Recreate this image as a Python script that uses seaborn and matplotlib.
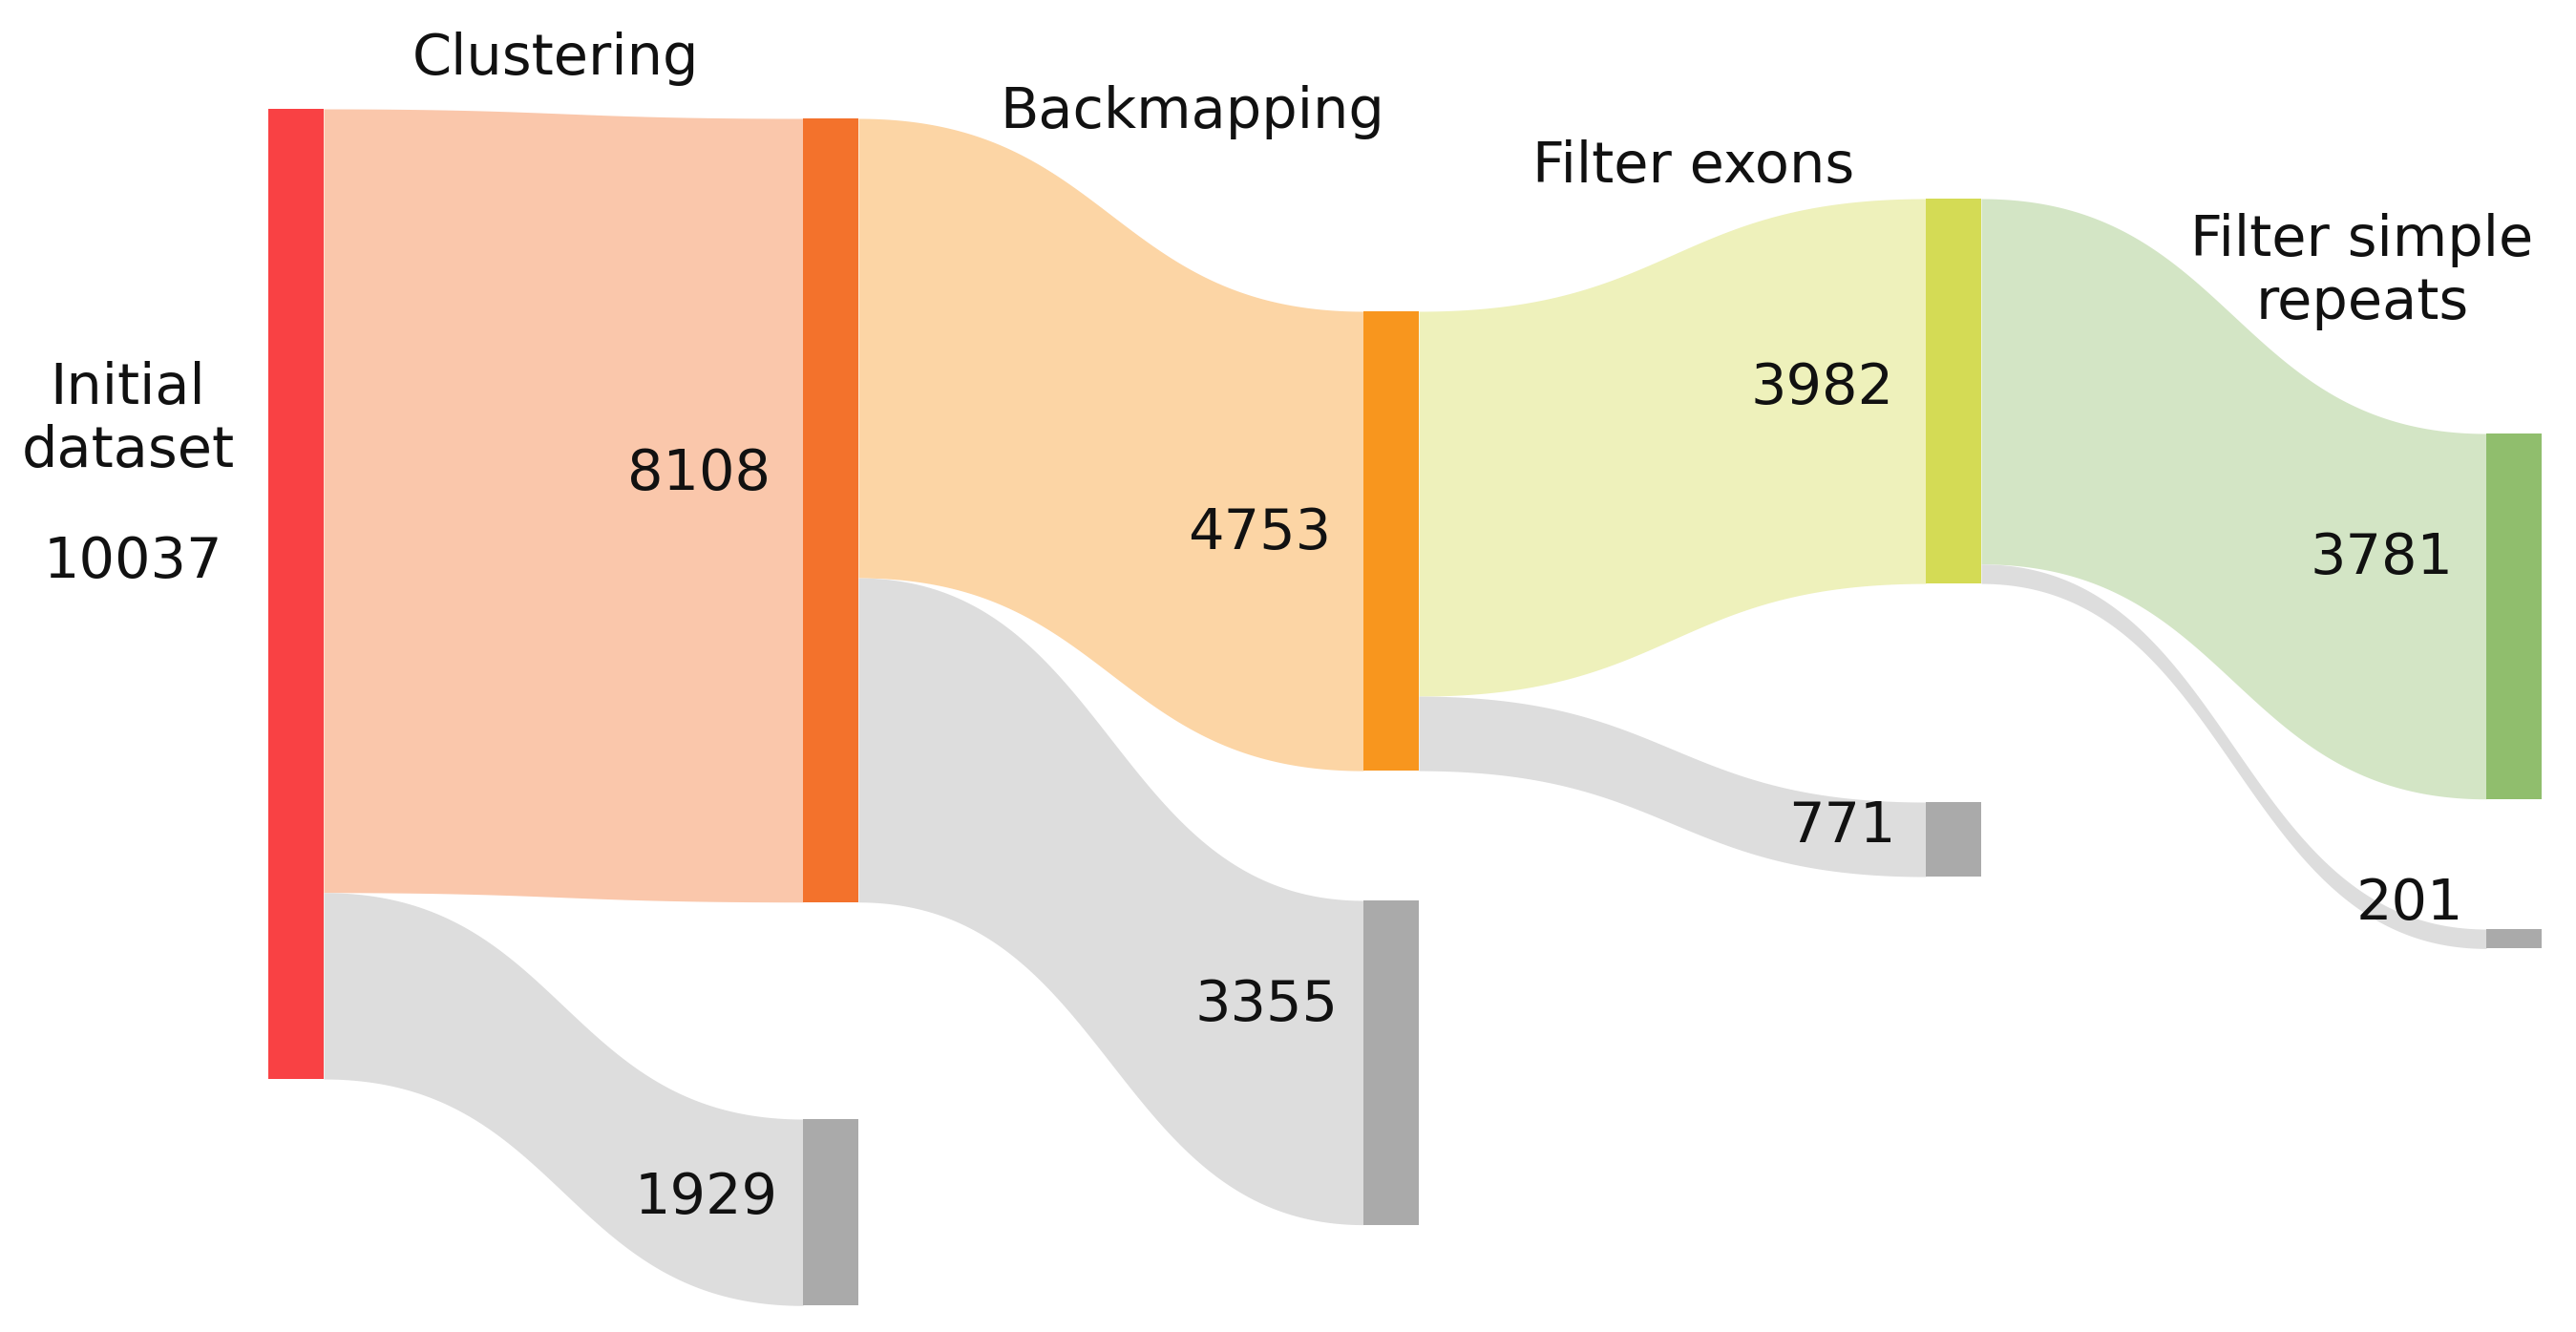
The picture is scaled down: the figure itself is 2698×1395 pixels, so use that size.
import numpy as np
import matplotlib
matplotlib.use("Agg")
import matplotlib.pyplot as plt
import seaborn as sns

# ---------------- data ----------------
stages = ["Initial\ndataset", "Clustering", "Backmapping", "Filter exons", "Filter simple\nrepeats"]
kept = [10037, 8108, 4753, 3982, 3781]          # sequences kept after each stage
removed = [1929, 3355, 771, 201]                # sequences discarded at stages 1..4
stage_colors = ["#F94144", "#F3722C", "#F8961E", "#D4DB55", "#90BE6D"]
removed_color = "#AAAAAA"

# ---------------- layout (pixels) ----------------
W, H = 2698, 1395
sns.set_theme(style="white")
plt.rcParams["font.family"] = ["DejaVu Sans"]

fig = plt.figure(figsize=(W / 100, H / 100), dpi=100)
ax = fig.add_axes([0, 0, 1, 1])
ax.set_xlim(0, W)
ax.set_ylim(H, 0)
ax.axis("off")

col_x = [281, 841, 1428, 2017, 2604]      # left edge of node columns
node_w = 58
kept_top = [114, 124, 326, 208, 454]
removed_top = [1172, 943, 840, 973]
scale = 1016.0 / kept[0]                   # px per sequence

pal = sns.color_palette(stage_colors)
light = lambda c, a=0.4: tuple(1 - a * (1 - v) for v in c)
gray = matplotlib.colors.to_rgb(removed_color)


def ribbon(x0, y0a, y0b, x1, y1a, y1b, color):
    t = np.linspace(0, 1, 200)
    dx = x1 - x0
    xs = x0 + dx * (1.5 * t - 1.5 * t ** 2 + t ** 3)
    s = 3 * t ** 2 - 2 * t ** 3
    top = y0a + (y1a - y0a) * s
    bot = y0b + (y1b - y0b) * s
    ax.fill_between(xs, top, bot, color=color, linewidth=0, antialiased=True, zorder=1)


# links
for i in range(1, len(kept)):
    sx = col_x[i - 1] + node_w
    tx = col_x[i]
    src_top = kept_top[i - 1]
    h_keep = kept[i] * scale
    h_rem = removed[i - 1] * scale
    # kept flow
    ribbon(sx, src_top, src_top + h_keep, tx, kept_top[i], kept_top[i] + h_keep,
           light(pal[i]))
    # removed flow
    ribbon(sx, src_top + h_keep, src_top + h_keep + h_rem, tx,
           removed_top[i - 1], removed_top[i - 1] + h_rem, light(gray))

# nodes
for i, v in enumerate(kept):
    ax.bar(col_x[i], v * scale, width=node_w, bottom=kept_top[i], align="edge",
           color=pal[i], linewidth=0, zorder=2)
for i, v in enumerate(removed):
    ax.bar(col_x[i + 1], v * scale, width=node_w, bottom=removed_top[i], align="edge",
           color=gray, linewidth=0, zorder=2)

fs = 42.5
# stage titles
title_pos = [(134, 440), (582, 62), (1249, 117), (1774, 174), (2474, 285)]
for (x, y), lab in zip(title_pos, stages):
    ax.text(x, y, lab, ha="center", va="center", fontsize=fs, linespacing=1.2,
            color="#111111", zorder=3)

# value labels
ax.text(139, 589, f"{kept[0]}", ha="center", va="center", fontsize=fs, color="#111111", zorder=3)
kept_label_y = [None, 496, 559, 406, 585]
for i in range(1, len(kept)):
    ax.text(col_x[i] - 34, kept_label_y[i], f"{kept[i]}", ha="right", va="center",
            fontsize=fs, color="#111111", zorder=3)
removed_label_y = [1254, 1053, 866, 946]
removed_label_dx = [-26, -27, -31, -24]
for i, v in enumerate(removed):
    ax.text(col_x[i + 1] + removed_label_dx[i], removed_label_y[i], f"{v}", ha="right",
            va="center", fontsize=fs, color="#111111", zorder=3)

fig.savefig("out.png", dpi=100, facecolor="white")
